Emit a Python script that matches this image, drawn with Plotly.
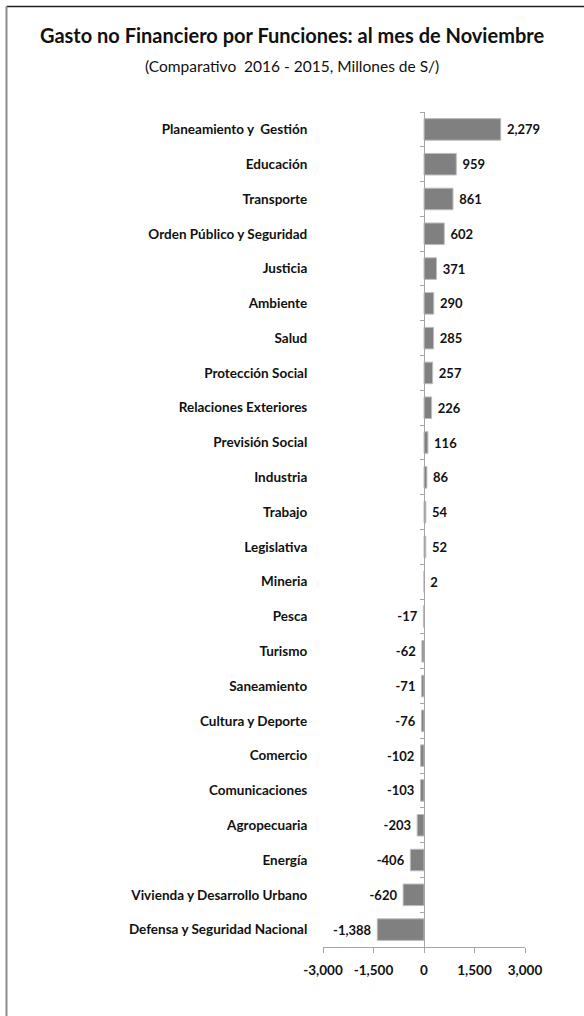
import plotly.graph_objects as go

# ── Data (millones de S/, 2016 vs 2015) ──
funciones = [
    "Planeamiento y  Gestión", "Educación", "Transporte", "Orden Público y Seguridad",
    "Justicia", "Ambiente", "Salud", "Protección Social", "Relaciones Exteriores",
    "Previsión Social", "Industria", "Trabajo", "Legislativa", "Mineria", "Pesca",
    "Turismo", "Saneamiento", "Cultura y Deporte", "Comercio", "Comunicaciones",
    "Agropecuaria", "Energía", "Vivienda y Desarrollo Urbano", "Defensa y Seguridad Nacional",
]
variacion = [2279, 959, 861, 602, 371, 290, 285, 257, 226, 116, 86, 54, 52, 2,
             -17, -62, -71, -76, -102, -103, -203, -406, -620, -1388]
x_ticks = [-3000, -1500, 0, 1500, 3000]
x_ticklabels = ["-3,000", "-1,500", "0", "1,500", "3,000"]

FONT = "Lato, 'Open Sans', sans-serif"
AXIS_GRAY = "#a6a6a6"
NBSP = "\u00a0"

# plot area in pixels (width 584, height 1016)
L, R, T, B = 323, 59, 112, 69
PW, PH = 584 - L - R, 1016 - T - B


def px_to_paper(xp, yp):
    return (xp - L) / PW, (1016 - B - yp) / PH


# outside labels with a little extra gap from the bar end
etiquetas = [f"{NBSP}{v:,}" if v >= 0 else f"{v:,}{NBSP}" for v in variacion]

fig = go.Figure()
fig.add_trace(go.Bar(
    x=variacion,
    y=funciones,
    orientation="h",
    marker=dict(color="#808080", line=dict(color="#bdbdbd", width=1)),
    text=etiquetas,
    textposition="outside",
    textfont=dict(family=FONT, size=13, color="#111111", weight="bold"),
    cliponaxis=False,
    hoverinfo="skip",
))

fig.update_layout(
    width=584, height=1016,
    plot_bgcolor="white", paper_bgcolor="white",
    margin=dict(l=L, r=R, t=T, b=B),
    showlegend=False,
    bargap=0.38,
    font=dict(family=FONT, size=12, color="#111111"),
    title=dict(
        text="<b>Gasto no Financiero por Funciones: al mes de Noviembre</b>",
        x=0.5, xanchor="center", y=1 - 36 / 1016, yanchor="middle",
        xref="container",
        font=dict(family=FONT, size=20, color="#111111"),
    ),
)

zero_fx = (0 - (-3000)) / 6000
fig.update_xaxes(
    range=[-3000, 3000],
    tickvals=x_ticks, ticktext=x_ticklabels,
    showgrid=False, zeroline=False,
    showline=True, linecolor=AXIS_GRAY, linewidth=1,
    ticks="outside", ticklen=5, tickcolor=AXIS_GRAY,
    ticklabelstandoff=6,
    tickfont=dict(family=FONT, size=13.5, color="#111111", weight="bold"),
)
fig.update_yaxes(
    categoryorder="array", categoryarray=funciones[::-1],
    anchor="free", position=zero_fx,
    showgrid=False, zeroline=False,
    showline=True, linecolor=AXIS_GRAY, linewidth=1,
    ticks="outside", ticklen=4, tickcolor=AXIS_GRAY, tickson="boundaries",
    ticklabelstandoff=114,
    tickfont=dict(family=FONT, size=13.5, color="#111111", weight="bold"),
)

# subtitle
sx, sy = px_to_paper(292, 66)
fig.add_annotation(
    text="(Comparativo  2016 - 2015, Millones de S/)",
    xref="paper", yref="paper", x=sx, y=sy, showarrow=False,
    xanchor="center", yanchor="middle",
    font=dict(family=FONT, size=15.5, color="#111111"),
)

# frame: top and left edges
x0, y0 = px_to_paper(6.5, 6.5)
x1, y1 = px_to_paper(584, 1016)
fig.add_shape(type="line", xref="paper", yref="paper", x0=x0, y0=y0, x1=x1, y1=y0,
              line=dict(color="#222222", width=1.5))
fig.add_shape(type="line", xref="paper", yref="paper", x0=x0, y0=y0, x1=x0, y1=y1,
              line=dict(color="#8c8c8c", width=2))

fig.write_html("out.html", config={"displayModeBar": False},
               post_script="document.body.style.margin='0';")
